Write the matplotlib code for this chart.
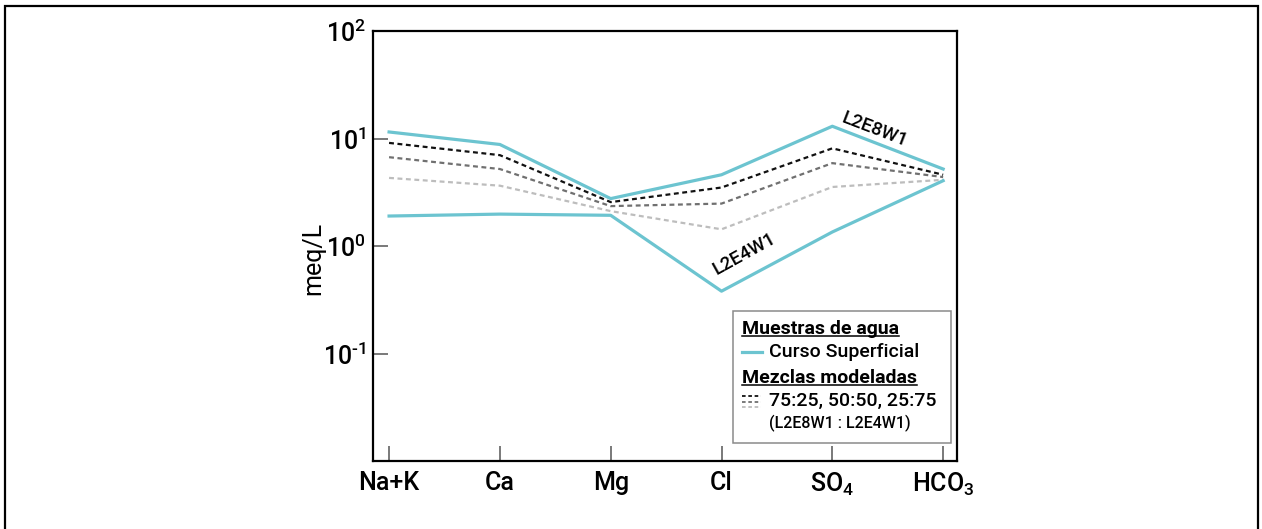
import numpy as np
import matplotlib
matplotlib.use('Agg')
import matplotlib.pyplot as plt
from matplotlib.patches import Rectangle
from matplotlib.lines import Line2D

plt.rcParams['font.family'] = ['Roboto', 'DejaVu Sans']
plt.rcParams['font.weight'] = 'medium'
plt.rcParams['mathtext.fontset'] = 'custom'
plt.rcParams['mathtext.rm'] = 'Roboto:medium'
plt.rcParams['mathtext.it'] = 'Roboto:medium'
plt.rcParams['mathtext.bf'] = 'Roboto:bold'

# Iones (meq/L)
iones = ['Na+K', 'Ca', 'Mg', 'Cl', 'SO$_4$', 'HCO$_3$']

# Curso superficial
l2e8w1 = [11.5, 8.8, 2.76, 4.6, 13.0, 5.2]
l2e4w1 = [1.90, 1.98, 1.93, 0.38, 1.35, 4.05]

# Mezclas modeladas (L2E8W1 : L2E4W1)
mezcla_75_25 = [9.1, 7.0, 2.56, 3.5, 8.1, 4.6]
mezcla_50_50 = [6.7, 5.2, 2.35, 2.48, 5.9, 4.38]
mezcla_25_75 = [4.3, 3.64, 2.11, 1.43, 3.54, 4.13]

CIAN = '#6cc4d0'
W, H = 1262, 529

def fx(px):
    return px / W

def fy(py):
    return 1 - py / H

fig = plt.figure(figsize=(W / 100, H / 100), dpi=100)
ax = fig.add_axes([fx(373), fy(461), fx(957) - fx(373), fy(31) - fy(461)])

x = np.arange(len(iones))
dash = (2.2, 1.6)
ax.plot(x, mezcla_25_75, color='#bdbdbd', lw=1.6, dashes=dash)
ax.plot(x, mezcla_50_50, color='#707070', lw=1.6, dashes=dash)
ax.plot(x, mezcla_75_25, color='#111111', lw=1.6, dashes=dash)
ax.plot(x, l2e8w1, color=CIAN, lw=2.3)
ax.plot(x, l2e4w1, color=CIAN, lw=2.3)

ax.set_yscale('log')
ax.set_ylim(1e-2, 1e2)
ax.set_xlim(-0.145, 5.125)
ax.set_yticks([1e-1, 1e0, 1e1, 1e2])
ax.set_yticklabels([r'$10^{\text{-}1}$', '$10^{0}$', '$10^{1}$', '$10^{2}$'])
ax.yaxis.set_minor_locator(matplotlib.ticker.NullLocator())
ax.set_xticks(x)
ax.set_xticklabels(iones)
ax.tick_params(axis='both', direction='in', length=10.5, width=1.1,
               color='#555555', labelsize=18, labelcolor='black')
ax.tick_params(axis='y', pad=5)
ax.tick_params(axis='x', pad=7)
for s in ax.spines.values():
    s.set_linewidth(1.6)
    s.set_color('black')
ax.set_ylabel('meq/L', fontsize=18)
ax.yaxis.set_label_coords(-0.082, 0.47)

# etiquetas de las curvas
ax.text(4.38, 12.0, 'L2E8W1', rotation=-21, fontsize=13.5, ha='center', va='center')
ax.text(3.21, 0.84, 'L2E4W1', rotation=29, fontsize=13.5, ha='center', va='center')

# marco exterior
fig.patches.append(Rectangle((fx(5), fy(540)), fx(1258) - fx(5), fy(6) - fy(540),
                             transform=fig.transFigure, fill=False,
                             edgecolor='black', lw=1.6))

# leyenda
fig.patches.append(Rectangle((fx(733), fy(443)), fx(951) - fx(733), fy(311) - fy(443),
                             transform=fig.transFigure, fill=True, facecolor='white',
                             edgecolor='#8a8a8a', lw=1.1, zorder=5))

titulos = []
titulos.append(fig.text(fx(742), fy(329), 'Muestras de agua', fontsize=14,
                        fontweight='bold', va='center', zorder=6))
fig.add_artist(Line2D([fx(742), fx(762)], [fy(352), fy(352)], color=CIAN, lw=2.3, zorder=6))
fig.text(fx(769), fy(352), 'Curso Superficial', fontsize=14, va='center', zorder=6)
titulos.append(fig.text(fx(742), fy(378), 'Mezclas modeladas', fontsize=14,
                        fontweight='bold', va='center', zorder=6))
for yy, c in zip([396, 401.5, 407], ['#111111', '#707070', '#bdbdbd']):
    fig.add_artist(Line2D([fx(742), fx(761)], [fy(yy), fy(yy)], color=c, lw=1.3,
                          dashes=(2, 1.5), zorder=6))
fig.text(fx(769), fy(401), '75:25, 50:50, 25:75', fontsize=14, va='center', zorder=6)
fig.text(fx(769), fy(423), '(L2E8W1 : L2E4W1)', fontsize=11.5, va='center', zorder=6)

# subrayado de los titulos
fig.canvas.draw()
r = fig.canvas.get_renderer()
for t in titulos:
    bb = t.get_window_extent(r)
    yb = bb.y0 + 2
    fig.add_artist(Line2D([bb.x0 / W, bb.x1 / W], [yb / H, yb / H],
                          color='black', lw=1.1, zorder=6))

fig.savefig('out.png', dpi=100)
